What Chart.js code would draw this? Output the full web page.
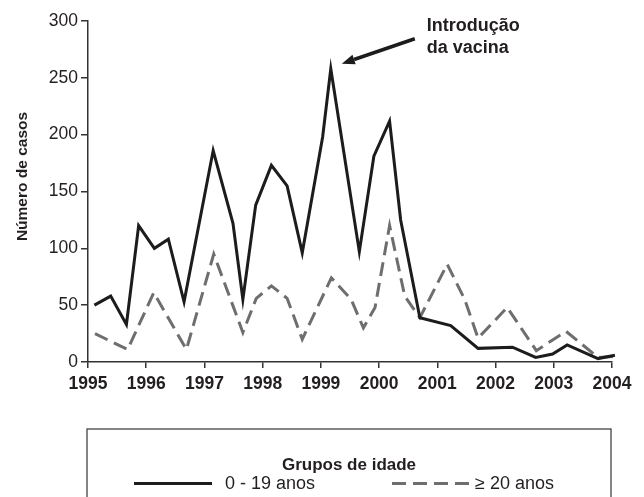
<!DOCTYPE html>
<html>
<head>
<meta charset="utf-8">
<script src="https://cdn.jsdelivr.net/npm/chart.js@4.4.1/dist/chart.umd.min.js"></script>
<style>
  html, body { margin: 0; padding: 0; background: #ffffff; }
  #wrap { width: 644px; height: 497px; position: relative; }
</style>
</head>
<body>
<div id="wrap"><canvas id="c" width="644" height="497"></canvas></div>
<script>
// ---- Data ----
const yearTicks = [1995, 1996, 1997, 1998, 1999, 2000, 2001, 2002, 2003, 2004];
const caseTicks = [0, 50, 100, 150, 200, 250, 300];

const youngLabel = '0 - 19 anos';
const youngYears = [1995.11, 1995.39, 1995.66, 1995.87, 1996.14, 1996.38, 1996.65, 1997.15, 1997.49, 1997.66,
                    1997.88, 1998.15, 1998.42, 1998.68, 1999.03, 1999.17, 1999.66, 1999.91, 2000.18, 2000.37,
                    2000.70, 2001.23, 2001.70, 2002.29, 2002.69, 2002.98, 2003.23, 2003.76, 2004.05];
const youngCases = [50, 58, 33, 120, 100, 108, 53, 186, 122, 55,
                    138, 173, 155, 96, 198, 258, 97, 181, 212, 125,
                    39, 32, 12, 13, 4, 7, 15, 3, 6];

const adultLabel = '\u2265 20 anos';
const adultYears = [1995.12, 1995.68, 1996.13, 1996.69, 1997.16, 1997.66, 1997.89, 1998.15, 1998.42, 1998.68,
                    1999.18, 1999.52, 1999.73, 1999.93, 2000.18, 2000.44, 2000.70, 2001.17, 2001.47, 2001.70,
                    2002.20, 2002.70, 2003.21, 2003.76, 2004.05];
const adultCases = [25, 11, 61, 11, 95, 26, 56, 67, 56, 20,
                    74, 55, 30, 48, 120, 58, 39, 86, 55, 21,
                    48, 10, 27, 4, 5];

const yTitle = 'Número de casos';
const legendTitle = 'Grupos de idade';
const noteLines = ['Introdução', 'da vacina'];

// ---- Styles ----
const FONT = '"Liberation Sans", Arial, Helvetica, sans-serif';
const TEXT = '#231f20';
const AXIS = '#333333';
const BLACK = '#1c1c1c';
const GREY = '#6e6e6e';
const DASH = [14, 7];

function toPoints(xs, ys) { return xs.map((x, i) => ({ x: x, y: ys[i] })); }

const extras = {
  id: 'extras',
  afterDraw(chart) {
    const ctx = chart.ctx;
    const ca = chart.chartArea;
    const xs = chart.scales.x, ys = chart.scales.y;
    ctx.save();

    // y-axis title
    ctx.save();
    ctx.translate(23, 176.5);
    ctx.rotate(-Math.PI / 2);
    ctx.fillStyle = TEXT;
    ctx.font = 'bold 15.5px ' + FONT;
    ctx.textAlign = 'center';
    ctx.textBaseline = 'middle';
    ctx.fillText(yTitle, 0, 0);
    ctx.restore();

    // annotation arrow anchored to the peak of the 0-19 series
    let pk = 0;
    youngCases.forEach((v, i) => { if (v > youngCases[pk]) pk = i; });
    const px = xs.getPixelForValue(youngYears[pk]);
    const py = ys.getPixelForValue(youngCases[pk]);
    const tipX = px + 11, tipY = py - 5;
    const tailX = tipX + 73, tailY = tipY - 25;
    const ang = Math.atan2(tailY - tipY, tailX - tipX);
    const headLen = 13, headW = 5;
    const bx = tipX + Math.cos(ang) * headLen, by = tipY + Math.sin(ang) * headLen;
    ctx.strokeStyle = BLACK;
    ctx.lineWidth = 3.5;
    ctx.lineCap = 'butt';
    ctx.beginPath();
    ctx.moveTo(bx, by);
    ctx.lineTo(tailX, tailY);
    ctx.stroke();
    ctx.fillStyle = BLACK;
    ctx.beginPath();
    ctx.moveTo(tipX, tipY);
    ctx.lineTo(bx + Math.sin(ang) * headW, by - Math.cos(ang) * headW);
    ctx.lineTo(bx - Math.sin(ang) * headW, by + Math.cos(ang) * headW);
    ctx.closePath();
    ctx.fill();

    // annotation text
    ctx.fillStyle = TEXT;
    ctx.font = 'bold 18px ' + FONT;
    ctx.textAlign = 'left';
    ctx.textBaseline = 'alphabetic';
    ctx.fillText(noteLines[0], px + 96, py - 38);
    ctx.fillText(noteLines[1], px + 96, py - 15.5);

    // legend box
    const left = ca.left - 1, right = ca.right - 1, top = 429;
    ctx.strokeStyle = '#444444';
    ctx.lineWidth = 1.3;
    ctx.setLineDash([]);
    ctx.strokeRect(left, top, right - left, 80);
    ctx.fillStyle = TEXT;
    ctx.font = 'bold 17px ' + FONT;
    ctx.textAlign = 'center';
    ctx.fillText(legendTitle, (left + right) / 2, 470);

    const ds = chart.data.datasets;
    const items = [
      { x0: 134, x1: 212, tx: 225, d: ds[0] },
      { x0: 392, x1: 469, tx: 475, d: ds[1] }
    ];
    items.forEach(it => {
      ctx.strokeStyle = it.d.borderColor;
      ctx.lineWidth = it.d.borderWidth;
      ctx.setLineDash(it.d.borderDash || []);
      ctx.beginPath();
      ctx.moveTo(it.x0, 483.5);
      ctx.lineTo(it.x1, 483.5);
      ctx.stroke();
      ctx.setLineDash([]);
      ctx.fillStyle = TEXT;
      ctx.font = '18px ' + FONT;
      ctx.textAlign = 'left';
      ctx.fillText(it.d.label, it.tx, 488.5);
    });
    ctx.restore();
  }
};

new Chart(document.getElementById('c'), {
  type: 'line',
  data: {
    datasets: [
      { label: youngLabel, data: toPoints(youngYears, youngCases), borderColor: BLACK, backgroundColor: BLACK,
        borderWidth: 3, pointRadius: 0, tension: 0, fill: false, clip: false, borderJoinStyle: 'miter' },
      { label: adultLabel, data: toPoints(adultYears, adultCases), borderColor: GREY, backgroundColor: GREY,
        borderWidth: 3, borderDash: DASH, pointRadius: 0, tension: 0, fill: false, clip: false, borderJoinStyle: 'miter' }
    ]
  },
  options: {
    responsive: false,
    animation: false,
    devicePixelRatio: 1,
    layout: { padding: { top: 21, right: 32, left: 0, bottom: 0 } },
    plugins: { legend: { display: false }, tooltip: { enabled: false }, title: { display: false } },
    scales: {
      x: {
        type: 'linear', min: yearTicks[0], max: yearTicks[yearTicks.length - 1],
        afterBuildTicks: s => { s.ticks = yearTicks.map(v => ({ value: v })); },
        afterFit: s => { s.height = 135; },
        grid: { drawOnChartArea: false, drawTicks: true, tickLength: 6, color: AXIS, lineWidth: 1.5 },
        border: { display: true, color: AXIS, width: 1.5 },
        ticks: { color: TEXT, font: { family: FONT, size: 17.5, weight: 'bold' }, padding: 6,
                 maxRotation: 0, autoSkip: false, callback: v => String(v) }
      },
      y: {
        min: caseTicks[0], max: caseTicks[caseTicks.length - 1],
        afterBuildTicks: s => { s.ticks = caseTicks.map(v => ({ value: v })); },
        afterFit: s => { s.width = 88; },
        grid: { drawOnChartArea: false, drawTicks: true, tickLength: 7, color: AXIS, lineWidth: 1.5 },
        border: { display: true, color: AXIS, width: 1.5 },
        ticks: { color: TEXT, font: { family: FONT, size: 17.5 }, padding: 3, callback: v => String(v) }
      }
    }
  },
  plugins: [extras]
});
</script>
</body>
</html>
